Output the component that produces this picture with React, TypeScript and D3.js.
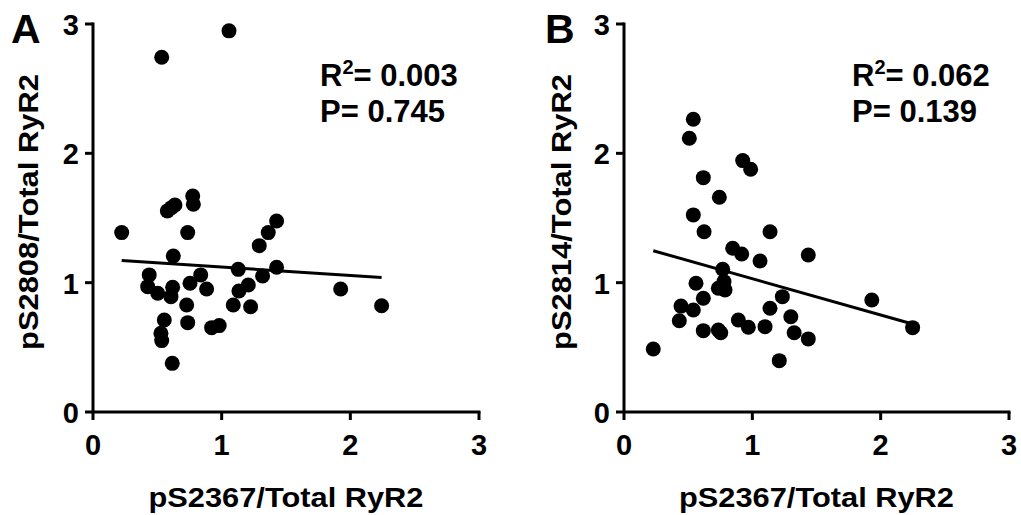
import React from "react";
import * as d3 from "d3";

// Panel A: pS2367 (x) vs pS2808 (y)
const xA = [0.223, 0.578, 0.61, 0.637, 0.775, 0.78, 0.736, 0.624, 0.437, 0.425, 0.503, 0.619, 0.606, 0.754, 0.837, 0.883, 0.728, 0.554, 0.736, 0.528, 0.534, 0.616, 0.922, 0.981, 1.129, 1.09, 1.134, 1.207, 1.225, 1.318, 1.427, 1.292, 1.362, 1.427, 1.925, 2.243, 0.534, 1.057];
const yA = [1.387, 1.555, 1.58, 1.6, 1.67, 1.606, 1.387, 1.206, 1.06, 0.969, 0.918, 0.964, 0.892, 0.995, 1.06, 0.951, 0.827, 0.711, 0.691, 0.608, 0.552, 0.376, 0.652, 0.668, 1.103, 0.827, 0.936, 0.982, 0.814, 1.052, 1.119, 1.286, 1.387, 1.477, 0.951, 0.822, 2.743, 2.947];

// Panel B: pS2367 (x) vs pS2814 (y)
const xB = [0.54, 0.509, 0.925, 0.987, 0.618, 0.743, 0.54, 0.624, 1.138, 0.847, 0.917, 1.06, 1.436, 0.769, 0.561, 0.779, 0.735, 0.787, 0.618, 0.444, 0.54, 0.431, 0.618, 0.735, 0.754, 0.891, 0.969, 1.099, 1.138, 1.234, 1.3, 1.326, 1.436, 1.21, 0.228, 1.931, 2.249];
const yB = [2.264, 2.117, 1.944, 1.877, 1.812, 1.66, 1.524, 1.394, 1.394, 1.266, 1.222, 1.168, 1.214, 1.104, 0.995, 1.008, 0.957, 0.944, 0.879, 0.819, 0.789, 0.706, 0.629, 0.634, 0.613, 0.711, 0.655, 0.66, 0.802, 0.892, 0.737, 0.613, 0.565, 0.397, 0.487, 0.866, 0.652];

// Regression lines (slope, intercept) as shown
const fitA = { slope: -0.0658, intercept: 1.187 };
const fitB = { slope: -0.2805, intercept: 1.311 };

const statsA = { r2: "0.003", p: "0.745" };
const statsB = { r2: "0.062", p: "0.139" };

const axisTicks = [0, 1, 2, 3];
const xTitle = "pS2367/Total RyR2";
const yTitleA = "pS2808/Total RyR2";
const yTitleB = "pS2814/Total RyR2";

const FONT = "'Liberation Sans', Arial, Helvetica, sans-serif";

type PanelProps = {
  letter: string;
  xs: number[];
  ys: number[];
  fit: { slope: number; intercept: number };
  stats: { r2: string; p: string };
  yTitle: string;
  x0: number;
  x1: number;
  letterX: number;
  yTitleX: number;
  statsX: number;
};

function Panel(props: PanelProps) {
  const { letter, xs, ys, fit, stats, yTitle, x0, x1, letterX, yTitleX, statsX } = props;
  const x = d3.scaleLinear().domain([0, 3]).range([x0, x1]);
  const y = d3.scaleLinear().domain([0, 3]).range([412, 24]);
  const ticks = x.ticks(3).filter((t) => axisTicks.includes(t));
  const yticks = y.ticks(3).filter((t) => axisTicks.includes(t));
  const xmin = d3.min(xs) as number;
  const xmax = d3.max(xs) as number;
  const line = d3
    .line<number>()
    .x((d) => x(d))
    .y((d) => y(fit.intercept + fit.slope * d));
  const y0 = y(0);
  return (
    <g fontFamily={FONT} fontWeight="bold" fill="#000">
      <text x={letterX} y={43} fontSize={41}>{letter}</text>
      {/* axes */}
      <path
        d={`M${x(0)},${y(3)} L${x(0)},${y0} L${x(3)},${y0}`}
        fill="none"
        stroke="#000"
        strokeWidth={3}
        strokeLinecap="square"
      />
      {yticks.map((t) => (
        <g key={"y" + t}>
          <line x1={x(0) - 8} x2={x(0)} y1={y(t)} y2={y(t)} stroke="#000" strokeWidth={3} />
          <text x={x(0) - 14} y={y(t) + 11} fontSize={29} textAnchor="end">{t}</text>
        </g>
      ))}
      {ticks.map((t) => (
        <g key={"x" + t}>
          <line x1={x(t)} x2={x(t)} y1={y0} y2={y0 + 8} stroke="#000" strokeWidth={3} />
          <text x={x(t)} y={455} fontSize={29} textAnchor="middle">{t}</text>
        </g>
      ))}
      <text
        x={(x(0) + x(3)) / 2}
        y={507}
        fontSize={28}
        textAnchor="middle"
        textLength={275}
        lengthAdjust="spacingAndGlyphs"
      >
        {xTitle}
      </text>
      <text
        transform={`translate(${yTitleX},212) rotate(-90)`}
        fontSize={28}
        textAnchor="middle"
        textLength={276}
        lengthAdjust="spacingAndGlyphs"
      >
        {yTitle}
      </text>
      {/* points */}
      {xs.map((d, i) => (
        <circle key={i} cx={x(d)} cy={y(ys[i])} r={7.5} fill="#000" />
      ))}
      {/* regression */}
      <path d={line([xmin, xmax]) || ""} fill="none" stroke="#000" strokeWidth={3} />
      {/* stats */}
      <text x={statsX} y={86} fontSize={31}>
        R<tspan fontSize={20} dy={-12}>2</tspan>
        <tspan dy={12}>= {stats.r2}</tspan>
      </text>
      <text x={statsX} y={122} fontSize={31}>P= {stats.p}</text>
    </g>
  );
}

export default function App() {
  return (
    <svg
      width={1021}
      height={515}
      viewBox="0 0 1021 515"
      style={{ position: "absolute", left: 0, top: 0, background: "#fff" }}
    >
      <rect width={1021} height={515} fill="#fff" />
      <Panel
        letter="A"
        xs={xA}
        ys={yA}
        fit={fitA}
        stats={statsA}
        yTitle={yTitleA}
        x0={93}
        x1={479}
        letterX={11}
        yTitleX={38}
        statsX={320}
      />
      <Panel
        letter="B"
        xs={xB}
        ys={yB}
        fit={fitB}
        stats={statsB}
        yTitle={yTitleB}
        x0={624}
        x1={1009}
        letterX={545}
        yTitleX={571}
        statsX={852}
      />
    </svg>
  );
}
